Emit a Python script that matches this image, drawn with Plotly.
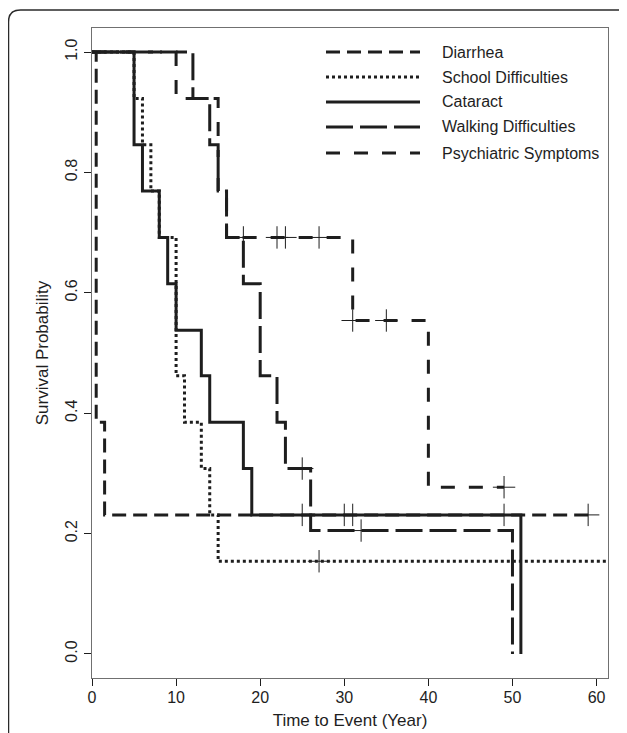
import plotly.graph_objects as go

# ---------------- data ----------------
series_names = ["Diarrhea", "School Difficulties", "Cataract",
                "Walking Difficulties", "Psychiatric Symptoms"]

# event times and survival after each event
diarrhea_t = [0.5, 1.5]
diarrhea_s = [0.385, 0.231]
diarrhea_cens = [31, 49, 59]
diarrhea_end = 59

school_t = [5, 6, 7, 8, 10, 11, 13, 14, 15]
school_s = [0.923, 0.846, 0.769, 0.692, 0.462, 0.385, 0.308, 0.231, 0.154]
school_cens = [27]
school_end = 62

cataract_t = [5, 6, 8, 9, 10, 13, 14, 18, 19, 51]
cataract_s = [0.846, 0.769, 0.692, 0.615, 0.538, 0.462, 0.385, 0.308, 0.231, 0.0]
cataract_cens = [25, 30]
cataract_end = 51

walking_t = [12, 14, 15, 16, 18, 20, 22, 23, 26, 50]
walking_s = [0.923, 0.846, 0.769, 0.692, 0.615, 0.462, 0.385, 0.308, 0.205, 0.0]
walking_cens = [25, 32]
walking_end = 50

psych_t = [10, 15, 16, 31, 40]
psych_s = [0.923, 0.769, 0.692, 0.554, 0.277]
psych_cens = [18, 22, 23, 27, 31, 35, 49]
psych_end = 49

x_ticks = [0, 10, 20, 30, 40, 50, 60]
y_ticks = [0.0, 0.2, 0.4, 0.6, 0.8, 1.0]

# ---------------- styling ----------------
INK = "#1e1e1e"
FONT = "Liberation Sans, Arial, sans-serif"
dashes = ["14px,7px", "3px,3px", "solid", "27px,7px", "14px,14px"]

series = [
    (diarrhea_t, diarrhea_s, diarrhea_cens, diarrhea_end),
    (school_t, school_s, school_cens, school_end),
    (cataract_t, cataract_s, cataract_cens, cataract_end),
    (walking_t, walking_s, walking_cens, walking_end),
    (psych_t, psych_s, psych_cens, psych_end),
]


def surv_at(t, times, surv):
    s = 1.0
    for ti, si in zip(times, surv):
        if ti <= t:
            s = si
    return s


fig = go.Figure()
for name, dash, (ts, ss, cens, end) in zip(series_names, dashes, series):
    xs = [0] + list(ts)
    ys = [1.0] + list(ss)
    if end > xs[-1]:
        xs.append(end)
        ys.append(ys[-1])
    fig.add_trace(go.Scatter(
        x=xs, y=ys, mode="lines", name=name, showlegend=False,
        line=dict(shape="hv", color=INK, width=3, dash=dash),
    ))
    fig.add_trace(go.Scatter(
        x=cens, y=[surv_at(c, ts, ss) for c in cens], mode="markers",
        name=name + " (censored)", showlegend=False,
        marker=dict(symbol="cross-thin", size=16,
                    line=dict(color=INK, width=1)),
    ))

# ---------------- layout ----------------
# page has an 8px body margin, so figure coords = page coords - 8
OFF = 8
W, H = 627 - OFF, 733 - OFF
ML, MR, MT, MB = 92 - OFF, 19, 28 - OFF, 55
PW, PH = W - ML - MR, H - MT - MB


def px2paper(px, py):
    """page pixel -> paper coords"""
    fx, fy = px - OFF, py - OFF
    return (fx - ML) / PW, (H - MB - fy) / PH


# manual legend
leg_rows = [52, 77, 102, 127, 153]
for name, dash, yrow in zip(series_names, dashes, leg_rows):
    x0, y0 = px2paper(326, yrow)
    x1, _ = px2paper(420, yrow)
    fig.add_shape(type="line", xref="paper", yref="paper",
                  x0=x0, x1=x1, y0=y0, y1=y0,
                  line=dict(color=INK, width=3, dash=dash))
    tx, _ = px2paper(440, yrow)
    fig.add_annotation(xref="paper", yref="paper", x=tx, y=y0,
                       text=name, showarrow=False, xanchor="left",
                       yanchor="middle",
                       font=dict(family=FONT, size=16, color=INK))

# outer rounded frame (open at bottom/right edge of the image)
xl, yt = px2paper(8.5, 10)
xr, yb = px2paper(631, 745)
rxl, ryl = 12 / PW, 12 / PH
rxr, ryr = 10 / PW, 10 / PH
path = (f"M {xl},{yb} L {xl},{yt - ryl} Q {xl},{yt} {xl + rxl},{yt} "
        f"L {xr - rxr},{yt} Q {xr},{yt} {xr},{yt - ryr} L {xr},{yb}")
fig.add_shape(type="path", xref="paper", yref="paper", path=path,
              line=dict(color="#2a2a2a", width=1.5))

axis_common = dict(
    showgrid=False, zeroline=False, showline=True, mirror=True,
    linecolor="#707070", linewidth=1.3, automargin=False,
    ticks="outside", ticklen=7, tickwidth=1, tickcolor=INK,
    tickfont=dict(family=FONT, size=16, color=INK),
)

fig.update_layout(
    width=W, height=H,
    margin=dict(l=ML, r=MR, t=MT, b=MB),
    paper_bgcolor="white", plot_bgcolor="white",
    font=dict(family=FONT, color=INK),
    xaxis=dict(range=[0, 61.36], tickvals=x_ticks, ticklabelstandoff=-2,
               title=dict(text="Time to Event (Year)", standoff=8,
                          font=dict(family=FONT, size=17, color=INK)),
               **axis_common),
    yaxis=dict(range=[-0.04, 1.04], tickvals=y_ticks, tickformat=".1f",
               tickangle=-90,
               title=dict(text="Survival Probability", standoff=10,
                          font=dict(family=FONT, size=17, color=INK)),
               **axis_common),
)

fig.write_html("out.html")
